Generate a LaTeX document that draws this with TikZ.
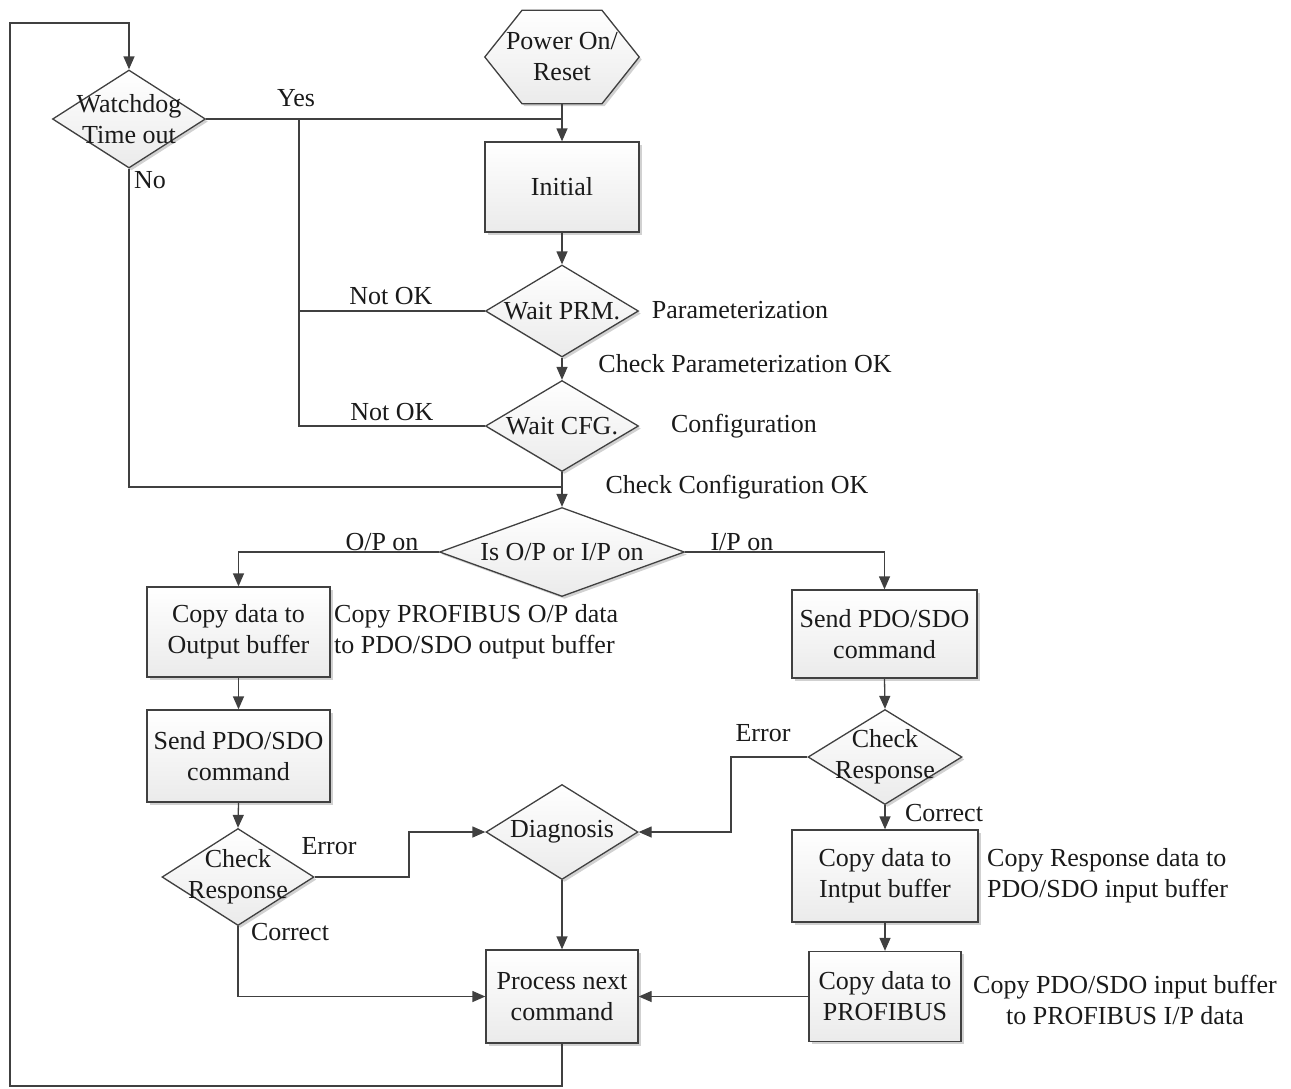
\documentclass[tikz,border=0pt]{standalone}
\usepackage{fontspec}
\setmainfont{Liberation Serif}
\usetikzlibrary{shapes.geometric,arrows.meta,shadows,calc}
\definecolor{ln}{HTML}{404040}
\definecolor{tx}{HTML}{1A1A1A}
\begin{document}
\begin{tikzpicture}[x=1pt,y=-1pt,
  every node/.style={font=\fontsize{26}{31}\selectfont, text=tx},
  shp/.style={draw=ln, line width=1.3pt, top color=white, bottom color=gray!16,
    drop shadow={shadow xshift=2.5pt, shadow yshift=-2.5pt, fill=black, opacity=0.18},
    inner sep=0pt},
  box/.style={shp, rectangle, align=center},
  dia/.style={shp, diamond},
  txt/.style={align=center, inner sep=0pt},
  lbl/.style={inner sep=0pt},
  con/.style={draw=ln, line width=1.3pt},
  arr/.style={con, -{Triangle[length=13pt,width=11pt]}}
]
\useasboundingbox (0,0) rectangle (1291,1088);

% Power on hexagon
\node[minimum width=154pt, minimum height=93pt, inner sep=0pt] (pwr) at (562,57) {};
\filldraw[draw=ln, line width=1.3pt, top color=white, bottom color=gray!16,
    drop shadow={shadow xshift=2.5pt, shadow yshift=-2.5pt, fill=black, opacity=0.18}]
  (pwr.west) -- ($(pwr.north)+(-40,0)$) -- ($(pwr.north)+(40,0)$) -- (pwr.east)
  -- ($(pwr.south)+(40,0)$) -- ($(pwr.south)+(-40,0)$) -- cycle;
\node[txt] (pwrT) at (pwr) {Power On/\\Reset};

% boxes
\node[box, minimum width=154pt, minimum height=90pt] (init) at (562,187) {Initial};
\node[box, minimum width=183pt, minimum height=90pt] (cpo) at (238.5,632) {Copy data to\\Output buffer};
\node[box, minimum width=185pt, minimum height=88pt] (sdr) at (884.5,634) {Send PDO/SDO\\command};
\node[box, minimum width=183pt, minimum height=92pt] (sdl) at (238.5,756) {Send PDO/SDO\\command};
\node[box, minimum width=152pt, minimum height=93pt] (proc) at (562,996.5) {Process next\\command};
\node[box, minimum width=186pt, minimum height=92pt] (cin) at (885,876) {Copy data to\\Intput buffer};
\node[box, minimum width=152pt, minimum height=90pt] (cpf) at (885,996.5) {Copy data to\\PROFIBUS};

% diamonds
\node[dia, minimum width=153pt, minimum height=98pt] (wd) at (129,119) {};
\node[txt] (wdT) at (wd) {Watchdog\\Time out};
\node[dia, minimum width=153pt, minimum height=92pt] (prm) at (562,311) {};
\node[txt] (prmT) at (prm) {Wait PRM.};
\node[dia, minimum width=153pt, minimum height=91pt] (cfg) at (562,426) {};
\node[txt] (cfgT) at (cfg) {Wait CFG.};
\node[dia, minimum width=245pt, minimum height=89pt] (isop) at (562,552) {};
\node[txt] (isopT) at (isop) {Is O/P or I/P on};
\node[dia, minimum width=152pt, minimum height=97pt] (crl) at (238,877) {};
\node[txt] (crlT) at (crl) {Check\\Response};
\node[dia, minimum width=152pt, minimum height=95pt] (diag) at (562,832) {};
\node[txt] (diagT) at (diag) {Diagnosis};
\node[dia, minimum width=154pt, minimum height=95pt] (crr) at (885,757) {};
\node[txt] (crrT) at (crr) {Check\\Response};

% helper coordinates
\coordinate (ybus) at (299,119);
\coordinate (jn) at (562,487);
\coordinate (el) at (409,877);
\coordinate (er) at (731,757);
\coordinate (lb) at (10,1086);
\coordinate (lt) at (10,23);

% connectors
\draw[arr] (pwr.south) -- (init.north);
\draw[con] (wd.east) -- (wd.east -| init.north);
\draw[con] (prm.west) -- (prm.west -| ybus);
\draw[con] (cfg.west) -- (cfg.west -| ybus) -- (ybus);
\draw[arr] (init.south) -- (prm.north);
\draw[arr] (prm.south) -- (cfg.north);
\draw[arr] (cfg.south) -- (isop.north);
\draw[con] (wd.south) -- (wd.south |- jn) -- (jn);
\draw[arr] (isop.west) -- (isop.west -| cpo.north) -- (cpo.north);
\draw[arr] (isop.east) -- (isop.east -| sdr.north) -- (sdr.north);
\draw[arr] (cpo.south) -- (sdl.north);
\draw[arr] (sdl.south) -- (crl.north);
\draw[arr] (crl.east) -- (el) -- (el |- diag.west) -- (diag.west);
\draw[arr] (crl.south) -- (crl.south |- proc.west) -- (proc.west);
\draw[arr] (diag.south) -- (proc.north);
\draw[arr] (sdr.south) -- (crr.north);
\draw[arr] (crr.west) -- (er) -- (er |- diag.east) -- (diag.east);
\draw[arr] (crr.south) -- (cin.north);
\draw[arr] (cin.south) -- (cpf.north);
\draw[arr] (cpf.west) -- (proc.east);
\draw[arr] (proc.south) -- (proc.south |- lb) -- (lb) -- (lt) -- (lt -| wd.north) -- (wd.north);

% labels
\node[lbl] (lYes) at (296,98) {Yes};
\node[lbl] (lNo) at (150,180) {No};
\node[lbl] (lNok1) at (391,296) {Not OK};
\node[lbl] (lNok2) at (392,412) {Not OK};
\node[lbl] (lPar) at (740,310) {Parameterization};
\node[lbl] (lCPar) at (745,364) {Check Parameterization OK};
\node[lbl] (lCfg) at (744,426) {Configuration};
\node[lbl] (lCCfg) at (737,487) {Check Configuration OK};
\node[lbl] (lOP) at (382,542) {O/P on};
\node[lbl] (lIP) at (742,542) {I/P on};
\node[lbl, align=left, anchor=west] (nOut) at (334,632) {Copy PROFIBUS O/P data\\to PDO/SDO output buffer};
\node[lbl] (lErrL) at (329,846) {Error};
\node[lbl] (lCorL) at (290,932) {Correct};
\node[lbl] (lErrR) at (763,733) {Error};
\node[lbl] (lCorR) at (944,813) {Correct};
\node[lbl, align=left, anchor=west] (nIn) at (987,876) {Copy Response data to\\PDO/SDO input buffer};
\node[lbl, align=center] (nPf) at (1125,1000) {Copy PDO/SDO input buffer\\to PROFIBUS I/P data};
\end{tikzpicture}
\end{document}
